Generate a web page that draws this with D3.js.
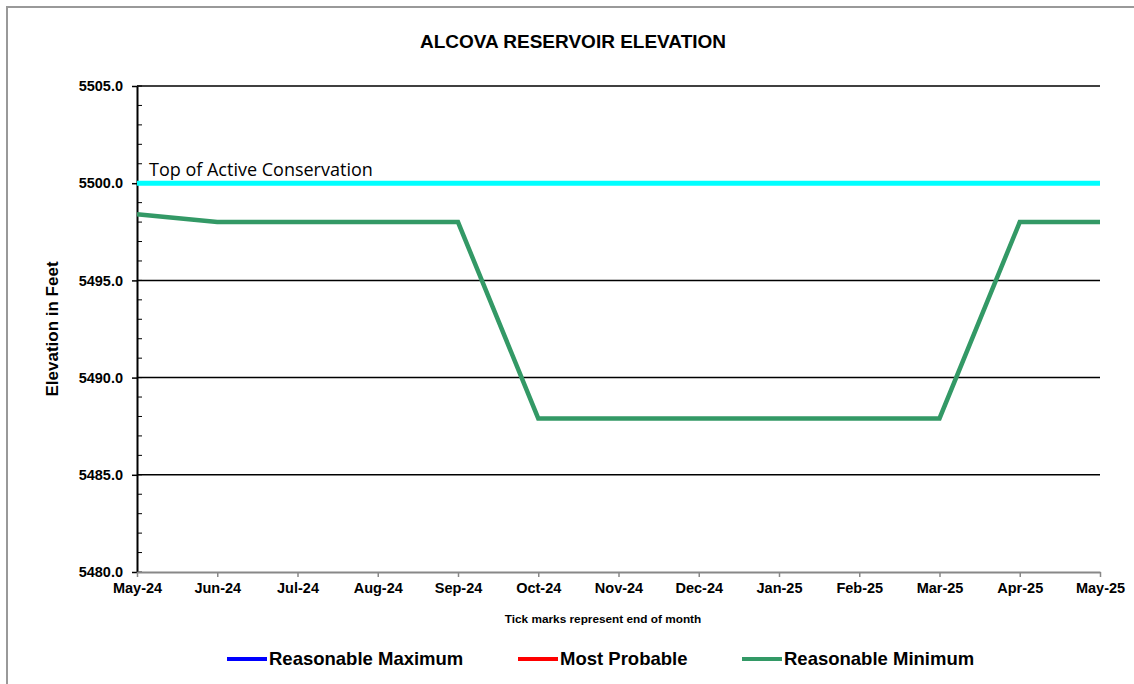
<!DOCTYPE html>
<meta charset="utf-8">
<style>
body { margin: 0; background: #fff; }
text { font-family: "Liberation Sans", Arial, sans-serif; }
</style>
<svg width="1134" height="684"></svg>
<script src="https://d3js.org/d3.v7.min.js"></script>
<script>

// chart data
var months = ["May-24", "Jun-24", "Jul-24", "Aug-24", "Sep-24", "Oct-24", "Nov-24",
              "Dec-24", "Jan-25", "Feb-25", "Mar-25", "Apr-25", "May-25"];
var reasonable_max = [5498.4, 5498.0, 5498.0, 5498.0, 5498.0, 5487.9, 5487.9, 5487.9, 5487.9, 5487.9, 5487.9, 5498.0, 5498.0];
var most_probable  = [5498.4, 5498.0, 5498.0, 5498.0, 5498.0, 5487.9, 5487.9, 5487.9, 5487.9, 5487.9, 5487.9, 5498.0, 5498.0];
var reasonable_min = [5498.4, 5498.0, 5498.0, 5498.0, 5498.0, 5487.9, 5487.9, 5487.9, 5487.9, 5487.9, 5487.9, 5498.0, 5498.0];
var top_active = 5500.0;
var y_ticks = [5480, 5485, 5490, 5495, 5500, 5505];
var y_minor = d3.range(5480, 5506, 1);
var legend_names = ["Reasonable Maximum", "Most Probable", "Reasonable Minimum"];

var max_colour = "#0000ff";
var prob_colour = "#ff0000";
var min_colour = "#339966";
var top_colour = "#00ffff";

var svg = d3.select("svg");

// plot area (note: "top" is reserved on window, so use plot_*)
var plot_left = 137, plot_right = 1100, plot_top = 86, plot_bottom = 572;

var x = d3.scalePoint().domain(months).range([plot_left, plot_right]);
var y = d3.scaleLinear().domain([5480, 5505]).range([plot_bottom, plot_top]);

// outer frame
svg.append("rect")
   .attr("x", 7).attr("y", 7)
   .attr("width", 1140).attr("height", 700)
   .style("fill", "none")
   .style("stroke", "#999")
   .style("stroke-width", 2);

// title
svg.append("text")
   .attr("x", 573).attr("y", 48)
   .attr("text-anchor", "middle")
   .style("font-size", "19px")
   .style("font-weight", "bold")
   .text("ALCOVA RESERVOIR ELEVATION");

// grid lines
svg.append("g").selectAll("line")
   .data(y_ticks.filter(function(d) { return d > 5480; }))
   .enter().append("line")
   .attr("x1", plot_left).attr("x2", plot_right)
   .attr("y1", function(d) { return y(d); })
   .attr("y2", function(d) { return y(d); })
   .style("stroke", "#000")
   .style("stroke-width", 1.5);

// minor ticks on the y axis (inside)
svg.append("g").selectAll("line")
   .data(y_minor)
   .enter().append("line")
   .attr("x1", plot_left).attr("x2", plot_left + 5)
   .attr("y1", function(d) { return y(d); })
   .attr("y2", function(d) { return y(d); })
   .style("stroke", "#000")
   .style("stroke-width", 1);

// y axis
var yAxis = svg.append("g")
   .attr("transform", "translate(" + plot_left + ",0)")
   .call(d3.axisLeft(y).tickValues(y_ticks).tickFormat(d3.format(".1f")).tickSize(5).tickSizeOuter(0));
yAxis.select(".domain").style("stroke", "#000").style("stroke-width", 2);
yAxis.selectAll(".tick line").style("stroke", "#000").style("stroke-width", 1.5);
yAxis.selectAll("text")
   .attr("x", -14)
   .style("font-family", "'Liberation Sans', Arial, sans-serif")
   .style("font-size", "14.5px")
   .style("font-weight", "bold")
   .style("fill", "#000");

// x axis
var xAxis = svg.append("g")
   .attr("transform", "translate(0," + plot_bottom + ")")
   .call(d3.axisBottom(x).tickSize(5).tickSizeOuter(0));
xAxis.select(".domain").style("stroke", "#888").style("stroke-width", 2);
xAxis.selectAll(".tick line").style("stroke", "#888").style("stroke-width", 1.5);
xAxis.selectAll("text")
   .attr("y", 11)
   .style("font-family", "'Liberation Sans', Arial, sans-serif")
   .style("font-size", "14.5px")
   .style("font-weight", "bold")
   .style("fill", "#000");

// axis titles
svg.append("text")
   .attr("transform", "translate(58," + ((plot_top + plot_bottom) / 2) + ") rotate(-90)")
   .attr("text-anchor", "middle")
   .style("font-size", "17px")
   .style("font-weight", "bold")
   .text("Elevation in Feet");

svg.append("text")
   .attr("x", 603).attr("y", 623)
   .attr("text-anchor", "middle")
   .style("font-size", "11.8px")
   .style("font-weight", "bold")
   .text("Tick marks represent end of month");

// top of active conservation
svg.append("line")
   .attr("x1", plot_left).attr("x2", plot_right)
   .attr("y1", y(top_active)).attr("y2", y(top_active))
   .style("stroke", top_colour)
   .style("stroke-width", 5);

svg.append("text")
   .attr("x", 149).attr("y", 176)
   .style("font-family", "'Open Sans', 'Noto Sans', sans-serif")
   .style("font-size", "18px")
   .text("Top of Active Conservation");

// series
var line = d3.line()
   .x(function(d, i) { return x(months[i]); })
   .y(function(d) { return y(d); });

function addSeries(values, colour, width) {
  svg.append("path")
     .datum(values)
     .attr("d", line)
     .style("fill", "none")
     .style("stroke", colour)
     .style("stroke-width", width)
     .style("stroke-linejoin", "miter");
}

// max and most probable sit under the minimum line
addSeries(reasonable_max, max_colour, 2.5);
addSeries(most_probable, prob_colour, 2.5);
addSeries(reasonable_min, min_colour, 4.5);

// legend
var legend_x = [227, 518, 742];
var legend_colours = [max_colour, prob_colour, min_colour];
var legend_y = 659;

legend_names.forEach(function(name, i) {
  svg.append("line")
     .attr("x1", legend_x[i]).attr("x2", legend_x[i] + 40)
     .attr("y1", legend_y).attr("y2", legend_y)
     .style("stroke", legend_colours[i])
     .style("stroke-width", 4);
  svg.append("text")
     .attr("x", legend_x[i] + 42).attr("y", legend_y + 6)
     .style("font-size", "18.5px")
     .style("font-weight", "bold")
     .text(name);
});

</script>
